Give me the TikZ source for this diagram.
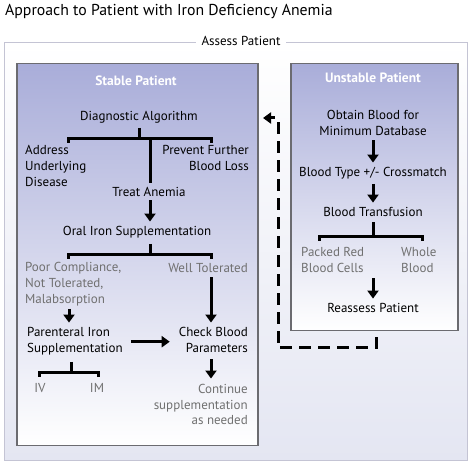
\documentclass[tikz,border=0pt]{standalone}
\usepackage{fontspec}
\setmainfont{PT Sans}
\usetikzlibrary{arrows.meta}
\definecolor{boxtop}{HTML}{A9ADD9}
\definecolor{boxline}{HTML}{6B6B70}
\definecolor{greytxt}{HTML}{707070}
\definecolor{outerline}{HTML}{C4C4D4}
\definecolor{outerbot}{HTML}{E4E6F2}
\begin{document}
\begin{tikzpicture}[x=1pt,y=-1pt,
  txt/.style={font=\fontsize{13}{16}\selectfont, inner sep=0pt, text=black},
  gtxt/.style={txt, text=greytxt},
  hdr/.style={font=\fontsize{13.5}{16}\selectfont\bfseries, inner sep=0pt, text=white},
  arr/.style={line width=3pt, -{Triangle[width=11pt,length=8pt]}},
  brk/.style={line width=3pt},
  dsh/.style={line width=3pt, dash pattern=on 12pt off 7pt, -{Triangle[width=11pt,length=8pt]}},
  panel/.style={draw=boxline, line width=1.5pt, top color=boxtop, bottom color=white, inner sep=0pt, anchor=north west}
]
\useasboundingbox (0,0) rectangle (472,465);
\fill[white] (0,0) rectangle (472,465);

\node[anchor=base west, font=\fontsize{15.8}{18}\selectfont, inner sep=0pt] (title) at (5,16) {Approach to Patient with Iron Deficiency Anemia};

% outer box
\node[draw=outerline, line width=1.2pt, top color=white, bottom color=outerbot, inner sep=0pt, anchor=north west, minimum width=463pt, minimum height=418pt] (obox) at (4,42) {};
\node[fill=white, font=\fontsize{13}{16}\selectfont, inner xsep=6pt, inner ysep=2pt] (assess) at (241,41) {Assess Patient};

% panels
\node[panel, minimum width=241pt, minimum height=382pt] (sbox) at (16,63) {};
\node[panel, minimum width=167pt, minimum height=267pt] (ubox) at (290,63) {};

% stable panel (multi-line nodes: base = last line)
\node[hdr, anchor=base] (stable) at (136,86) {Stable Patient};
\node[txt, anchor=base] (diag) at (139,121) {Diagnostic Algorithm};
\node[txt, anchor=base west, align=left] (addr) at (25,187) {Address\\Underlying\\Disease};
\node[txt, anchor=base east, align=right] (prev) at (249,171) {Prevent Further\\Blood Loss};
\node[txt, anchor=base] (treat) at (149,197) {Treat Anemia};
\node[txt, anchor=base] (oral) at (137,236) {Oral Iron Supplementation};
\node[gtxt, anchor=base west, align=left] (poor) at (25,304) {Poor Compliance,\\Not Tolerated,\\Malabsorption};
\node[gtxt, anchor=base east] (well) at (248,273) {Well Tolerated};
\node[txt, anchor=base west, align=left] (par) at (27,353) {Parenteral Iron\\Supplementation};
\node[txt, anchor=base east, align=right] (check) at (248,353) {Check Blood\\Parameters};
\node[gtxt, anchor=base east, align=right] (cont) at (248,425) {Continue\\supplementation\\as needed};
\node[gtxt, anchor=base] (iv) at (40,393) {IV};
\node[gtxt, anchor=base] (im) at (97,393) {IM};

% unstable panel
\node[hdr, anchor=base] (unstable) at (373,83) {Unstable Patient};
\node[txt, anchor=base, align=center] (obtain) at (373,136) {Obtain Blood for\\Minimum Database};
\node[txt, anchor=base] (type) at (373,177) {Blood Type +/- Crossmatch};
\node[txt, anchor=base] (transf) at (373,217) {Blood Transfusion};
\node[gtxt, anchor=base west, align=left] (prbc) at (301,273) {Packed Red\\Blood Cells};
\node[gtxt, anchor=base west, align=left] (whole) at (401,273) {Whole\\Blood};
\node[txt, anchor=base] (reass) at (373,313) {Reassess Patient};

% junction coordinates
\coordinate (j1) at (139,139);
\coordinate (j1l) at (68,143);
\coordinate (j1r) at (211,143);
\coordinate (j1t) at (150,139);
\coordinate (j2) at (150,255);
\coordinate (j2l) at (68,259);
\coordinate (j2r) at (211,259);
\coordinate (j3) at (71,373);
\coordinate (j3l) at (39,377);
\coordinate (j3r) at (98,377);
\coordinate (j4) at (373,237);
\coordinate (j4l) at (319,241);
\coordinate (j4r) at (422,241);
\coordinate (colA) at (69,0);
\coordinate (colB) at (211,0);
\coordinate (colC) at (373,0);
\coordinate (d1) at (278,348);
\coordinate (d2) at (263,118);

% stable connectors
\draw[brk] ([yshift=-4pt]diag.south) -- (j1);
\draw[brk] (j1l) |- (j1) -| (j1r);
\draw[brk] (j1t) -- ([yshift=5pt]j1t |- treat.north);
\draw[arr] ([yshift=-3pt]treat.south -| j1t) -- ([yshift=5pt]j1t |- oral.north);
\draw[brk] ([yshift=-5pt]j2 |- oral.south) -- (j2);
\draw[brk] (j2l) |- (j2) -| (j2r);
\draw[arr] ([yshift=-4pt]colB |- well.south) -- ([yshift=5pt]colB |- check.north);
\draw[arr] ([yshift=-2pt]colA |- poor.south) -- ([yshift=5pt]colA |- par.north);
\draw[arr] ([xshift=8pt]par.east) -- ([xshift=-9pt]check.west |- par.east);
\draw[arr] ([yshift=-6pt]colB |- check.south) -- ([yshift=5pt]colB |- cont.north);
\draw[brk] ([yshift=-6pt]j3 |- par.south) -- (j3);
\draw[brk] (j3l) |- (j3) -| (j3r);

% unstable connectors
\draw[arr] ([yshift=-4pt]colC |- obtain.south) -- ([yshift=5pt]colC |- type.north);
\draw[arr] ([yshift=-4pt]colC |- type.south) -- ([yshift=5pt]colC |- transf.north);
\draw[brk] ([yshift=-5pt]j4 |- transf.south) -- (j4);
\draw[brk] (j4l) |- (j4) -| (j4r);
\draw[arr] ([yshift=-5pt]colC |- prbc.south) -- ([yshift=5pt]colC |- reass.north);

% dashed return
\draw[dsh] ([xshift=2pt,yshift=-6pt]ubox.south) |- (d1) |- (d2);
\end{tikzpicture}
\end{document}
